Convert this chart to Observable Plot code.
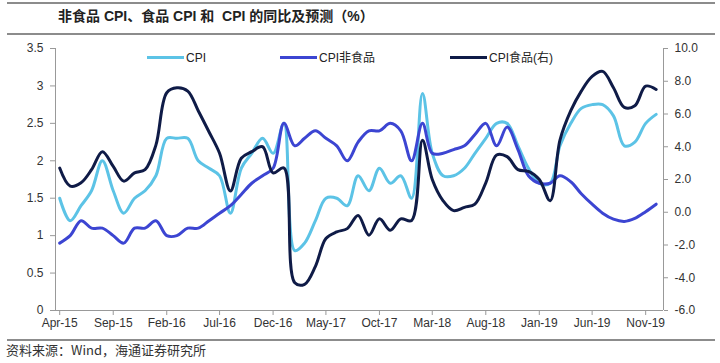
<!DOCTYPE html>
<html><head><meta charset="utf-8">
<script src="https://cdn.jsdelivr.net/npm/d3@7"></script>
<script src="https://cdn.jsdelivr.net/npm/@observablehq/plot@0.6"></script>
<style>
body{margin:0;background:#fff;}
#wrap{position:relative;width:720px;height:363px;overflow:hidden;font-family:"Liberation Sans",Arial,"Noto Sans CJK SC",sans-serif;}
.rule{position:absolute;left:7px;width:708px;height:0;border-top:2px solid #8c8c8c;}
#title{position:absolute;left:58px;top:7px;font-size:14px;font-weight:bold;color:#222;white-space:nowrap;line-height:18px;font-family:"Liberation Sans","Noto Sans CJK SC",sans-serif;}
#chart{position:absolute;left:0;top:36px;}
.leg{position:absolute;top:50px;height:16px;line-height:16px;font-size:12px;color:#222;white-space:nowrap;font-family:"Liberation Sans","Noto Sans CJK SC",sans-serif;}
.sw{display:inline-block;width:37px;height:3px;vertical-align:middle;margin-right:2px;position:relative;top:-1px;}
#source{position:absolute;left:6px;top:342px;font-size:13px;line-height:16px;color:#333;white-space:nowrap;font-family:"Noto Sans CJK SC","Liberation Sans",sans-serif;}
</style>
</head><body>
<div id="wrap">
  <div class="rule" style="top:2px"></div>
  <div id="title">非食品 CPI、食品 CPI 和&nbsp; CPI 的同比及预测（%）</div>
  <div class="rule" style="top:33px"></div>
  <div id="chart"></div>
  <div id="legend"></div>
  <div class="rule" style="top:339px"></div>
  <div id="source">资料来源：Wind，海通证券研究所</div>
</div>
<script>
// ---- data (monthly, Apr-15 .. Dec-19) ----
const startMonth = "2015-04-01";
const seriesNames = ["CPI", "CPI非食品", "CPI食品(右)"];
const seriesColors = ["#5cc3e6", "#3c45d2", "#0f1b47"];

const cpi = [
  1.5, 1.2, 1.4, 1.6, 2.0, 1.6, 1.3, 1.5, 1.6,
  1.8, 2.3, 2.3, 2.3, 2.0, 1.9, 1.8, 1.3, 1.9, 2.1, 2.3, 2.1,
  2.5, 0.8, 0.9, 1.2, 1.5, 1.5, 1.4, 1.8, 1.6, 1.9, 1.7, 1.8,
  1.5, 2.9, 2.1, 1.8, 1.8, 1.9, 2.1, 2.3, 2.5, 2.5, 2.2, 1.9,
  1.7, 1.7, 2.2, 2.5, 2.7, 2.75, 2.75, 2.6, 2.2, 2.25, 2.5, 2.62
];
const nonFood = [
  0.9, 1.0, 1.2, 1.1, 1.1, 1.0, 0.9, 1.1, 1.1,
  1.2, 1.0, 1.0, 1.1, 1.1, 1.2, 1.3, 1.4, 1.55, 1.7, 1.8, 1.9,
  2.5, 2.2, 2.3, 2.4, 2.3, 2.2, 2.0, 2.25, 2.4, 2.4, 2.5, 2.4,
  2.0, 2.5, 2.1, 2.1, 2.15, 2.2, 2.35, 2.5, 2.2, 2.45, 2.15, 1.8,
  1.7, 1.7, 1.8, 1.72, 1.56, 1.42, 1.3, 1.22, 1.19, 1.23, 1.32, 1.42
];
const food = [
  2.7, 1.6, 1.8, 2.6, 3.7, 2.8, 1.9, 2.4, 2.6,
  4.1, 7.3, 7.6, 7.4, 6.2, 4.9, 3.6, 1.3, 3.3, 3.7, 4.0, 2.4,
  2.7, -4.3, -4.4, -3.3, -1.6, -1.2, -1.0, -0.2, -1.4, -0.4, -1.1, -0.4,
  -0.5, 4.4, 2.0, 0.7, 0.1, 0.3, 0.5, 1.8, 3.5, 3.4, 2.6, 2.5,
  2.0, 0.7, 4.4, 6.2, 7.4, 8.3, 8.6, 7.6, 6.4, 6.5, 7.7, 7.5
];
const xTickDates = ["2015-04-01","2015-09-01","2016-02-01","2016-07-01","2016-12-01","2017-05-01",
                    "2017-10-01","2018-03-01","2018-08-01","2019-01-01","2019-06-01","2019-11-01"];
const leftTicks = [0, 0.5, 1, 1.5, 2, 2.5, 3, 3.5];
const rightTicks = [-6, -4, -2, 0, 2, 4, 6, 8, 10];

// ---- build ----
const start = new Date(startMonth);
const months = d3.utcMonth.range(start, d3.utcMonth.offset(start, cpi.length));
const rightToLeft = d3.scaleLinear().domain([-6, 10]).range([0, 3.5]);
const xDomain = [new Date("2015-03-20"), new Date("2019-12-22")];

const toRows = (vals, f) => vals.map((v, i) => ({date: months[i], value: f ? f(v) : v}));
const rowsCpi = toRows(cpi);
const rowsNon = toRows(nonFood);
const rowsFood = toRows(food, rightToLeft);

const chart = Plot.plot({
  width: 720, height: 300,
  marginTop: 12, marginBottom: 26, marginLeft: 55, marginRight: 57,
  style: {fontFamily: "Liberation Sans, Arial, sans-serif", fontSize: "12px", color: "#333", background: "transparent", overflow: "visible"},
  x: {type: "utc", domain: xDomain},
  y: {domain: [0, 3.5]},
  marks: [
    Plot.ruleX([xDomain[0]], {stroke: "#999", strokeWidth: 1}),
    Plot.ruleX([xDomain[1]], {stroke: "#999", strokeWidth: 1}),
    Plot.ruleY([0], {stroke: "#999", strokeWidth: 1}),
    Plot.axisY({anchor: "left", ticks: leftTicks, tickSize: 5, tickPadding: 7, label: null,
                tickFormat: d => String(d), stroke: "#999", fill: "#333"}),
    Plot.axisY({anchor: "right", ticks: rightTicks.map(rightToLeft), tickSize: 4, tickPadding: 7, label: null,
                tickFormat: v => (Math.round(rightToLeft.invert(v) * 10) / 10).toFixed(1), stroke: "#999", fill: "#333"}),
    Plot.axisX({ticks: xTickDates.map(d => new Date(d)), tickFormat: d3.utcFormat("%b-%y"), tickSize: 5, tickPadding: 3,
                label: null, stroke: "#999", fill: "#333"}),
    Plot.line(rowsCpi, {x: "date", y: "value", stroke: seriesColors[0], strokeWidth: 3, curve: "catmull-rom"}),
    Plot.line(rowsNon, {x: "date", y: "value", stroke: seriesColors[1], strokeWidth: 3, curve: "catmull-rom"}),
    Plot.line(rowsFood, {x: "date", y: "value", stroke: seriesColors[2], strokeWidth: 3, curve: "catmull-rom"})
  ]
});
document.getElementById("chart").appendChild(chart);

// legend
const legendX = [147, 280, 450];
const legend = document.getElementById("legend");
seriesNames.forEach((name, i) => {
  const item = document.createElement("div");
  item.className = "leg";
  item.style.left = legendX[i] + "px";
  const sw = document.createElement("span");
  sw.className = "sw";
  sw.style.background = seriesColors[i];
  item.appendChild(sw);
  item.appendChild(document.createTextNode(name));
  legend.appendChild(item);
});
</script>
</body></html>
